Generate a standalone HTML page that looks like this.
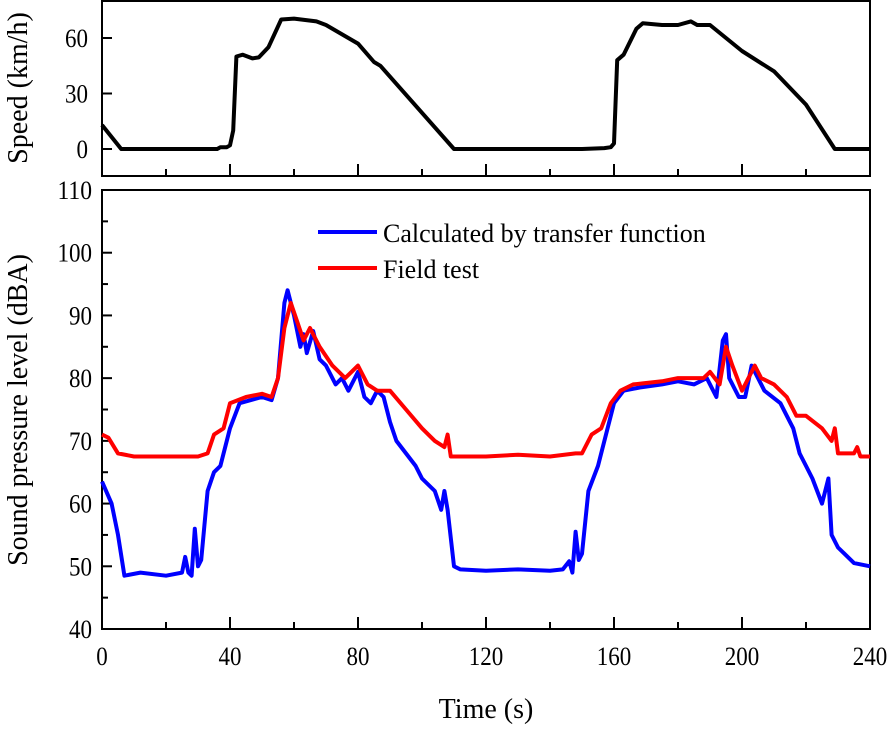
<!DOCTYPE html>
<html><head><meta charset="utf-8"><style>
body{margin:0;background:#fff}
svg text{font-family:"Liberation Serif",serif;fill:#000}
</style></head><body>
<svg id="c" width="890" height="728" xmlns="http://www.w3.org/2000/svg"></svg>
<script>
const speedT=[0,6,36,37,39,40,41,42,44,47,49,52,56,60,67,70,80,85,87,110,150,157,159,160,161,163,167,169,175,180,184,186,190,195,200,210,220,229,240];
const speedV=[13,0,0,1,1,2,10,50,51,49,49.5,55,70,70.5,69,67,57,47,45,0,0,0.5,1,3,48,51,65,68,67,67,69,67,67,60,53,42,24,0,0];
const blueT=[0,3,5,7,12,20,25,26,27,28,29,30,31,33,35,37,40,43,50,53,55,57,58,60,62,63,64,66,68,70,73,75,77,80,82,84,86,88,90,92,95,98,100,104,106,107,108,110,112,120,130,140,144,146,147,148,149,150,152,155,158,160,163,168,175,180,185,189,192,194,195,196,199,201,203,205,207,212,214,216,218,220,222,225,227,228,230,232,235,240];
const blueV=[63.5,60,55,48.5,49,48.5,49,51.5,49,48.5,56,50,51,62,65,66,72,76,77,76.5,80,92,94,90,85,87,84,87.5,83,82,79,80,78,81,77,76,78,77,73,70,68,66,64,62,59,62,59,50,49.5,49.3,49.5,49.3,49.5,50.8,49,55.5,51,52,62,66,72,76,78,78.5,79,79.5,79,80,77,86,87,80,77,77,82,80,78,76,74,72,68,66,64,60,64,55,53,52,50.5,50];
const redT=[0,2,5,10,20,30,33,35,38,40,45,50,53,55,57,59,61,63,65,68,72,76,80,83,86,90,95,100,104,107,108,109,120,130,140,148,150,153,156,159,162,166,175,180,188,190,193,195,197,200,204,206,210,214,217,220,225,228,229,230,235,236,237,240];
const redV=[71,70.5,68,67.5,67.5,67.5,68,71,72,76,77,77.5,77,80,88,92,89,86,88,85,82,80,82,79,78,78,75,72,70,69,71,67.5,67.5,67.8,67.5,68,68,71,72,76,78,79,79.5,80,80,81,79,85,82,78,82,80,79,77,74,74,72,70,72,68,68,69,67.5,67.5];
const xTicks=[0,40,80,120,160,200,240];
const speedTicks=[0,30,60];
const splTicks=[40,50,60,70,80,90,100,110];

const NS="http://www.w3.org/2000/svg",svg=document.getElementById('c');
function el(tag,attrs,parent){const e=document.createElementNS(NS,tag);for(const k in attrs)e.setAttribute(k,attrs[k]);(parent||svg).appendChild(e);return e;}
const X0=102,X1=870;
const x=t=>X0+(t/240)*(X1-X0);
const yS=v=>149-(v/60)*(149-38);
const yP=v=>629-(v-40)/70*(629-190);
function num(t,attrs){const e=el('text',attrs);e.textContent=t;const n=String(t).length;e.setAttribute('textLength',n*11.5);e.setAttribute('lengthAdjust','spacingAndGlyphs');return e;}
let r=el('rect',{x:X0,y:1,width:X1-X0,height:175,fill:'none',stroke:'#000','stroke-width':2});

r=el('rect',{x:X0,y:190,width:X1-X0,height:439,fill:'none',stroke:'#000','stroke-width':2});

for(let t=0;t<=240;t+=20){const L=t%40===0?12:7;
 let a=el('line',{x1:x(t),x2:x(t),y1:176,y2:176-L,stroke:'#000','stroke-width':2});
 a=el('line',{x1:x(t),x2:x(t),y1:629,y2:629-L,stroke:'#000','stroke-width':2});}
speedTicks.forEach(v=>{let a=el('line',{x1:X0,x2:X0+10,y1:yS(v),y2:yS(v),stroke:'#000','stroke-width':2});
 const tx=num(v,{x:88,y:yS(v)+9,'text-anchor':'end','font-size':26});});
for(let v=40;v<=110;v+=5){const L=v%10===0?10:6;let a=el('line',{x1:X0,x2:X0+L,y1:yP(v),y2:yP(v),stroke:'#000','stroke-width':2});}
splTicks.forEach(v=>{const tx=num(v,{x:92,y:yP(v)+9,'text-anchor':'end','font-size':26});});
xTicks.forEach(t=>{const tx=num(t,{x:x(t),y:665,'text-anchor':'middle','font-size':26});});
let tt=el('text',{x:486,y:718,'text-anchor':'middle','font-size':28});tt.textContent='Time (s)';
tt=el('text',{x:0,y:0,'text-anchor':'middle','font-size':28,transform:'translate(27,88) rotate(-90)'});tt.textContent='Speed (km/h)';
tt=el('text',{x:0,y:0,'text-anchor':'middle','font-size':28,transform:'translate(27,410) rotate(-90)'});tt.textContent='Sound pressure level (dBA)';
function line(T,V,yf,col,name){const d=T.map((t,i)=>(i?'L':'M')+x(t).toFixed(1)+','+yf(V[i]).toFixed(1)).join('');
 const p=el('path',{d,fill:'none',stroke:col,'stroke-width':4,'stroke-linejoin':'round'});}
line(speedT,speedV,yS,'#000','speed-line');
line(blueT,blueV,yP,'#0000ff','calculated-line');
line(redT,redV,yP,'#ff0000','field-test-line');
let g=el('line',{x1:318,x2:377,y1:232,y2:232,stroke:'#0000ff','stroke-width':4});
tt=el('text',{x:383,y:242,'font-size':26});tt.textContent='Calculated by transfer function';
g=el('line',{x1:318,x2:377,y1:268,y2:268,stroke:'#ff0000','stroke-width':4});
tt=el('text',{x:383,y:278,'font-size':26});tt.textContent='Field test';
</script>
</body></html>
